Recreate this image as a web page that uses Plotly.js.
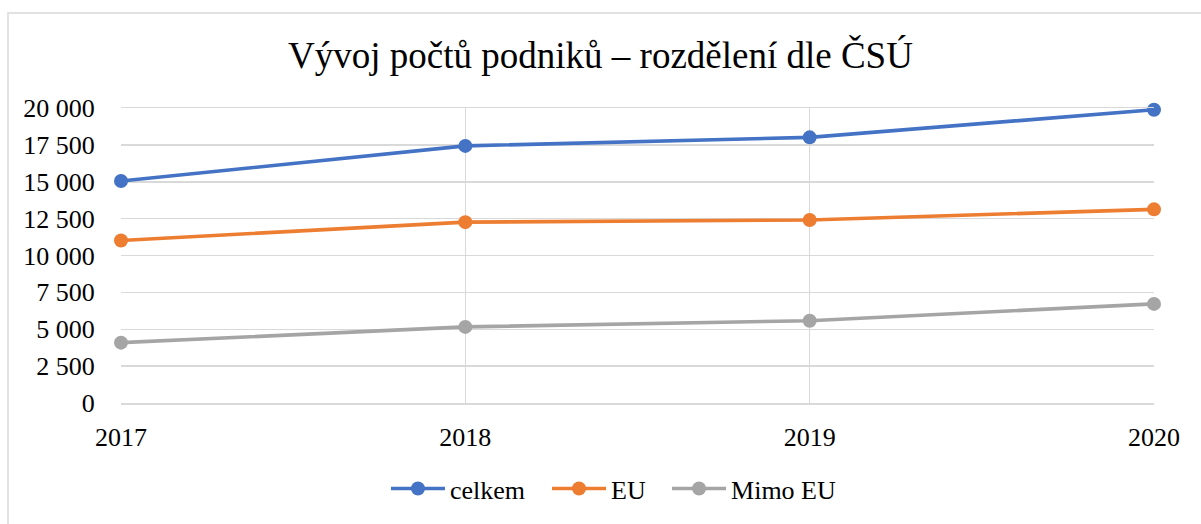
<!DOCTYPE html>
<html>
<head>
<meta charset="utf-8">
<script src="https://cdn.plot.ly/plotly-3.0.1.min.js"></script>
<style>
html,body{margin:0;padding:0;background:#fff;}
#chart{width:1201px;height:524px;}
</style>
</head>
<body>
<div id="chart"></div>
<script>
const years = [2017, 2018, 2019, 2020];
const celkem = [15050, 17430, 18010, 19880];
const eu = [11020, 12260, 12410, 13130];
const mimoEu = [4090, 5160, 5580, 6720];
const seriesNames = ['celkem', 'EU', 'Mimo EU'];
const colors = ['#4472C4', '#ED7D31', '#A5A5A5'];
const yTicks = [0, 2500, 5000, 7500, 10000, 12500, 15000, 17500, 20000];

const font = 'Liberation Serif';
const legendIds = ['legend', 'legend2', 'legend3'];
const legendX = [0.2565, 0.4124, 0.5286];

const traces = [celkem, eu, mimoEu].map((vals, i) => ({
  x: years, y: vals, name: seriesNames[i], type: 'scatter', mode: 'lines+markers',
  line: {color: colors[i], width: 3.6},
  marker: {color: colors[i], size: 14},
  legend: legendIds[i],
  cliponaxis: false
}));

const layout = {
  width: 1201, height: 524,
  margin: {l: 121, r: 47, t: 108, b: 118},
  paper_bgcolor: '#fff', plot_bgcolor: '#fff',
  separators: ', ',
  font: {family: font, size: 26, color: '#000'},
  title: {text: 'Vývoj počtů podniků – rozdělení dle ČSÚ', font: {family: font, size: 37, color: '#000'}, x: 0.5, xanchor: 'center', y: 0.895, yanchor: 'middle'},
  xaxis: {range: [2017, 2020], tickvals: years, ticktext: years.map(String), showgrid: true, gridcolor: '#d9d9d9', gridwidth: 1.5,
          zeroline: false, showline: true, linecolor: '#d9d9d9', linewidth: 1.5, mirror: true,
          ticks: 'outside', ticklen: 10, tickcolor: 'rgba(0,0,0,0)', tickfont: {family: font, size: 26, color: '#000'}, fixedrange: true},
  yaxis: {range: [0, 20000], tickvals: yTicks, tickformat: ',d', showgrid: true, gridcolor: '#d9d9d9', gridwidth: 1.5,
          zeroline: false, showline: false, ticks: 'outside', ticklen: 20, tickcolor: 'rgba(0,0,0,0)', tickfont: {family: font, size: 26, color: '#000'}, fixedrange: true},
  showlegend: true,
  shapes: [{type: 'rect', xref: 'paper', yref: 'paper', x0: -0.1094, x1: 1.2, y0: -0.6, y1: 1.322, line: {color: '#d9d9d9', width: 1.5}, fillcolor: 'rgba(0,0,0,0)', layer: 'below'}]
};
legendIds.forEach((id, i) => {
  layout[id] = {orientation: 'h', x: legendX[i], xanchor: 'left', y: -0.29, yanchor: 'middle', font: {family: font, size: 26, color: '#000'}, itemwidth: 54, bgcolor: 'rgba(0,0,0,0)'};
});

Plotly.newPlot('chart', traces, layout, {displayModeBar: false, staticPlot: true});
</script>
</body>
</html>
